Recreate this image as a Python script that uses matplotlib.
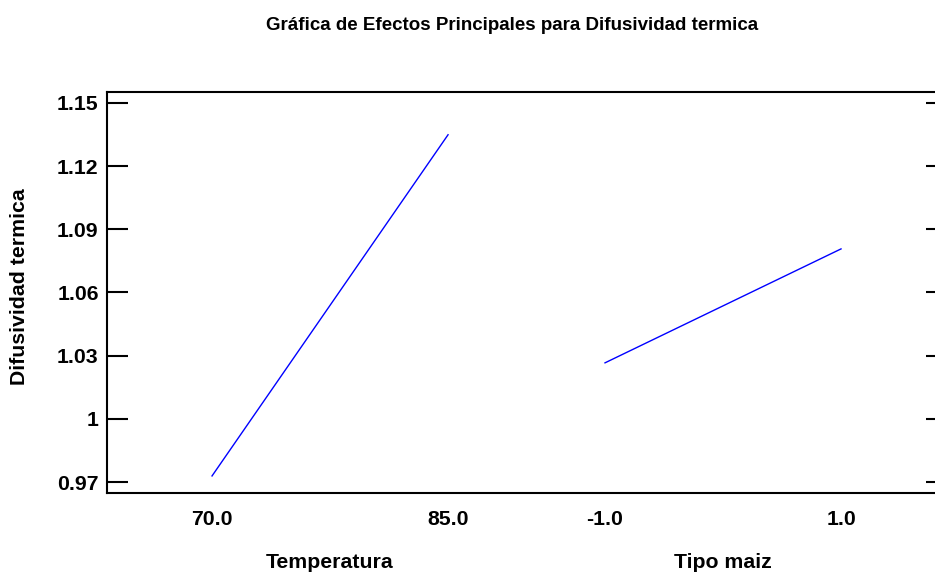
import matplotlib
matplotlib.use("Agg")
import matplotlib.pyplot as plt

plt.rcParams["font.family"] = ["Liberation Sans", "DejaVu Sans"]
plt.rcParams["font.weight"] = "bold"

TITLE = "Gráfica de Efectos Principales para Difusividad termica"
YLABEL = "Difusividad termica"

factors = ["Temperatura", "Tipo maiz"]
levels = [["70.0", "85.0"], ["-1.0", "1.0"]]
means = [[0.9729, 1.1349], [1.0266, 1.0807]]

yticks = [0.97, 1.0, 1.03, 1.06, 1.09, 1.12, 1.15]
ytick_labels = ["0.97", "1", "1.03", "1.06", "1.09", "1.12", "1.15"]

# horizontal layout (in units of one factor span)
GAP = 1.665
W, H = 935, 575
FS = 15.3

fig = plt.figure(figsize=(W / 100, H / 100), dpi=100)
ax = fig.add_axes([107 / W, 1 - 493 / H, (947 - 107) / W, (493 - 92) / H])

xticks, xlabels = [], []
for k, (name, lv, m) in enumerate(zip(factors, levels, means)):
    x0 = k * GAP
    xs = [x0, x0 + 1]
    ax.plot(xs, m, color="#0000ff", lw=1.0)
    xticks += xs
    xlabels += lv
    fig.text((107 + (x0 + 0.5 + 0.445) * 236) / W, 1 - 562 / H, name,
             ha="center", va="center", fontsize=FS, fontweight="bold")

ax.set_xlim(-0.445, 3.114)
ax.set_ylim(0.9648, 1.1552)
ax.set_xticks(xticks)
ax.set_xticklabels(xlabels, fontsize=FS, fontweight="bold")
ax.tick_params(axis="x", length=0, pad=12)
ax.set_yticks(yticks)
ax.set_yticklabels(ytick_labels, fontsize=FS, fontweight="bold")
ax.tick_params(axis="y", direction="in", length=15, width=1.5, right=True, pad=6)
for s in ax.spines.values():
    s.set_linewidth(1.5)
ax.spines["bottom"].set_visible(False)
# bottom frame line drawn in figure coords so it reaches the right edge
fig.add_artist(plt.Line2D([107 / W, 1.0], [1 - 493 / H] * 2,
                          transform=fig.transFigure, color="black", lw=1.5))

fig.text(20 / W, 1 - 287 / H, YLABEL, rotation=90, ha="center", va="center",
         fontsize=FS, fontweight="bold")
fig.text(512 / W, 1 - 25 / H, TITLE, ha="center", va="center",
         fontsize=13.5, fontweight="bold")

fig.savefig("out.png", dpi=100)
